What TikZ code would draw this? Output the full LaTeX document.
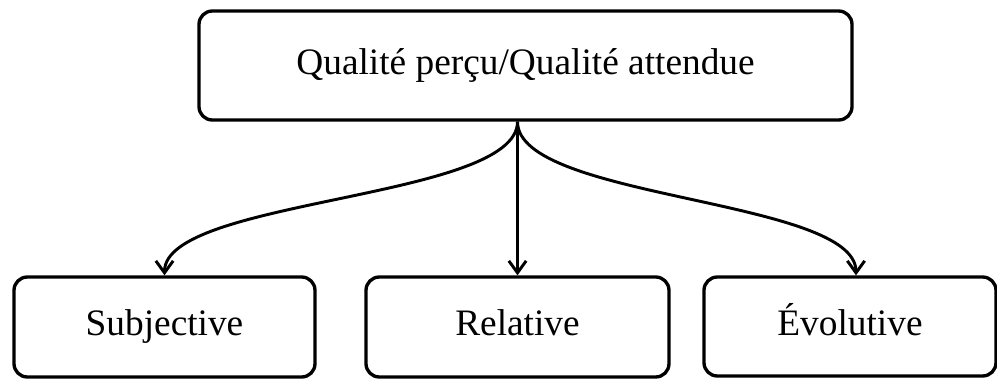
\documentclass[tikz,border=0pt]{standalone}
\usepackage{fontspec}
\setmainfont{Liberation Serif}
\usetikzlibrary{arrows.meta,calc}
\begin{document}
\begin{tikzpicture}[x=0.75pt,y=-0.75pt,
  box/.style={draw=black,line width=2.5pt,rounded corners=10pt,inner sep=0pt,text height=19pt,text depth=6pt,font=\fontsize{28}{32}\selectfont},
  conn/.style={line width=2.2pt,-{Straight Barb[length=9pt,width=13pt,line width=2.2pt]}}]
\useasboundingbox (0,0) rectangle (997,379);
\node[box,minimum width=653*0.75pt,minimum height=109*0.75pt] (top) at (525.5,65.5) {Qualité perçu/Qualité attendue};
\node[box,minimum width=301*0.75pt,minimum height=100*0.75pt] (subj) at (164.5,327) {Subjective};
\node[box,minimum width=303*0.75pt,minimum height=100*0.75pt] (rel) at (517.5,327) {Relative};
\node[box,minimum width=292*0.75pt,minimum height=99*0.75pt] (evo) at (850,326.5) {Évolutive};
\coordinate (o) at (rel.north |- top.south);
\coordinate (e) at ($(evo.north)+(6,0)$);
\draw[conn] (o) .. controls +(0,78) and +(0,-77) .. (subj.north);
\draw[conn] (o) -- (rel.north);
\draw[conn] (o) .. controls +(0,78) and +(0,-77) .. (e);
\end{tikzpicture}
\end{document}
